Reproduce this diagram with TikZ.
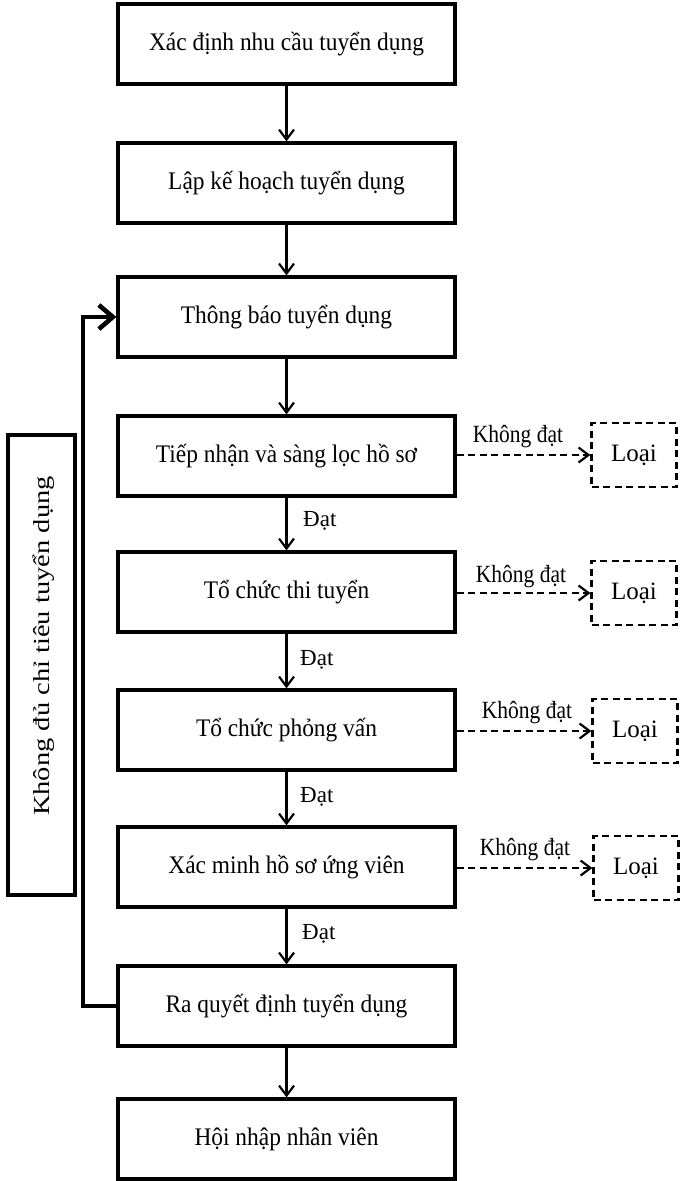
\documentclass[tikz,border=0pt]{standalone}
\usepackage{fontspec}
\setmainfont{Liberation Serif}
\usetikzlibrary{arrows.meta}
\newcommand{\vstr}[2]{\scalebox{1}[#1]{#2}}
\tikzset{
  stepbox/.style={draw, line width=3.2pt, minimum width=337pt, minimum height=80pt, inner sep=0pt, font=\fontsize{23.4}{25}\selectfont},
  rejbox/.style={draw, line width=2.2pt, dash pattern=on 7pt off 4.5pt, minimum width=85pt, minimum height=64pt, inner sep=0pt, font=\fontsize{25}{27}\selectfont},
  flow/.style={line width=2.2pt, -{Straight Barb[length=10pt,width=15pt]}},
  rej/.style={line width=2.2pt, dash pattern=on 7pt off 4.5pt, -{Straight Barb[length=10pt,width=15pt]}},
  lbl/.style={font=\fontsize{21.5}{23}\selectfont, inner sep=0pt},
  oklbl/.style={font=\fontsize{23}{25}\selectfont, inner sep=0pt, anchor=west},
  side/.style={draw, line width=3.2pt, minimum width=67pt, minimum height=460pt, inner sep=0pt},
  fback/.style={line width=4.6pt, -{Straight Barb[length=14pt,width=24pt]}}
}
\begin{document}
\begin{tikzpicture}[x=1pt,y=-1pt]
\useasboundingbox (0,0) rectangle (680,1181);
\node[stepbox] (r1) at (286.5,44) {\vstr{1.08}{Xác định nhu cầu tuyển dụng}};
\node[stepbox] (r2) at (286.5,183) {\vstr{1.08}{Lập kế hoạch tuyển dụng}};
\node[stepbox] (r3) at (286.5,317) {\vstr{1.08}{Thông báo tuyển dụng}};
\node[stepbox] (r4) at (286.5,456) {\vstr{1.08}{Tiếp nhận và sàng lọc hồ sơ}};
\node[stepbox] (r5) at (286.5,592) {\vstr{1.08}{Tổ chức thi tuyển}};
\node[stepbox] (r6) at (286.5,730) {\vstr{1.08}{Tổ chức phỏng vấn}};
\node[stepbox] (r7) at (286.5,867) {\vstr{1.08}{Xác minh hồ sơ ứng viên}};
\node[stepbox] (r8) at (286.5,1006) {\vstr{1.08}{Ra quyết định tuyển dụng}};
\node[stepbox] (r9) at (286.5,1139) {\vstr{1.08}{Hội nhập nhân viên}};

\node[rejbox] (l4) at (634,455) {Loại};
\node[rejbox] (l5) at (634,593) {Loại};
\node[rejbox] (l6) at (635,731) {Loại};
\node[rejbox] (l7) at (636,868) {Loại};

\node[side] (sd) at (41.5,665) {};
\node[rotate=90, inner sep=0pt] (sdt) at (44,646) {\scalebox{1.24}[1]{\fontsize{23}{25}\selectfont Không đủ chỉ tiêu tuyển dụng}};

\draw[flow] (r1) -- (r2);
\draw[flow] (r2) -- (r3);
\draw[flow] (r3) -- (r4);
\draw[flow] (r4) -- (r5);
\draw[flow] (r5) -- (r6);
\draw[flow] (r6) -- (r7);
\draw[flow] (r7) -- (r8);
\draw[flow] (r8) -- (r9);

\node[oklbl] (d4) at (303,521) {Đạt};
\node[oklbl] (d5) at (300,660) {Đạt};
\node[oklbl] (d6) at (300,797) {Đạt};
\node[oklbl] (d7) at (302,934) {Đạt};

\draw[rej] (r4.east |- l4) -- (l4.west);
\draw[rej] (r5.east |- l5) -- (l5.west);
\draw[rej] (r6.east |- l6) -- (l6.west);
\draw[rej] (r7.east |- l7) -- (l7.west);

\node[lbl] (k4) at (518,437) {\vstr{1.15}{Không đạt}};
\node[lbl] (k5) at (521,577) {\vstr{1.15}{Không đạt}};
\node[lbl] (k6) at (527,713) {\vstr{1.15}{Không đạt}};
\node[lbl] (k7) at (525,850) {\vstr{1.15}{Không đạt}};

\coordinate (fb) at (83,317);
\draw[fback] (r8.west) -| (fb) -- (r3.west);
\end{tikzpicture}
\end{document}
